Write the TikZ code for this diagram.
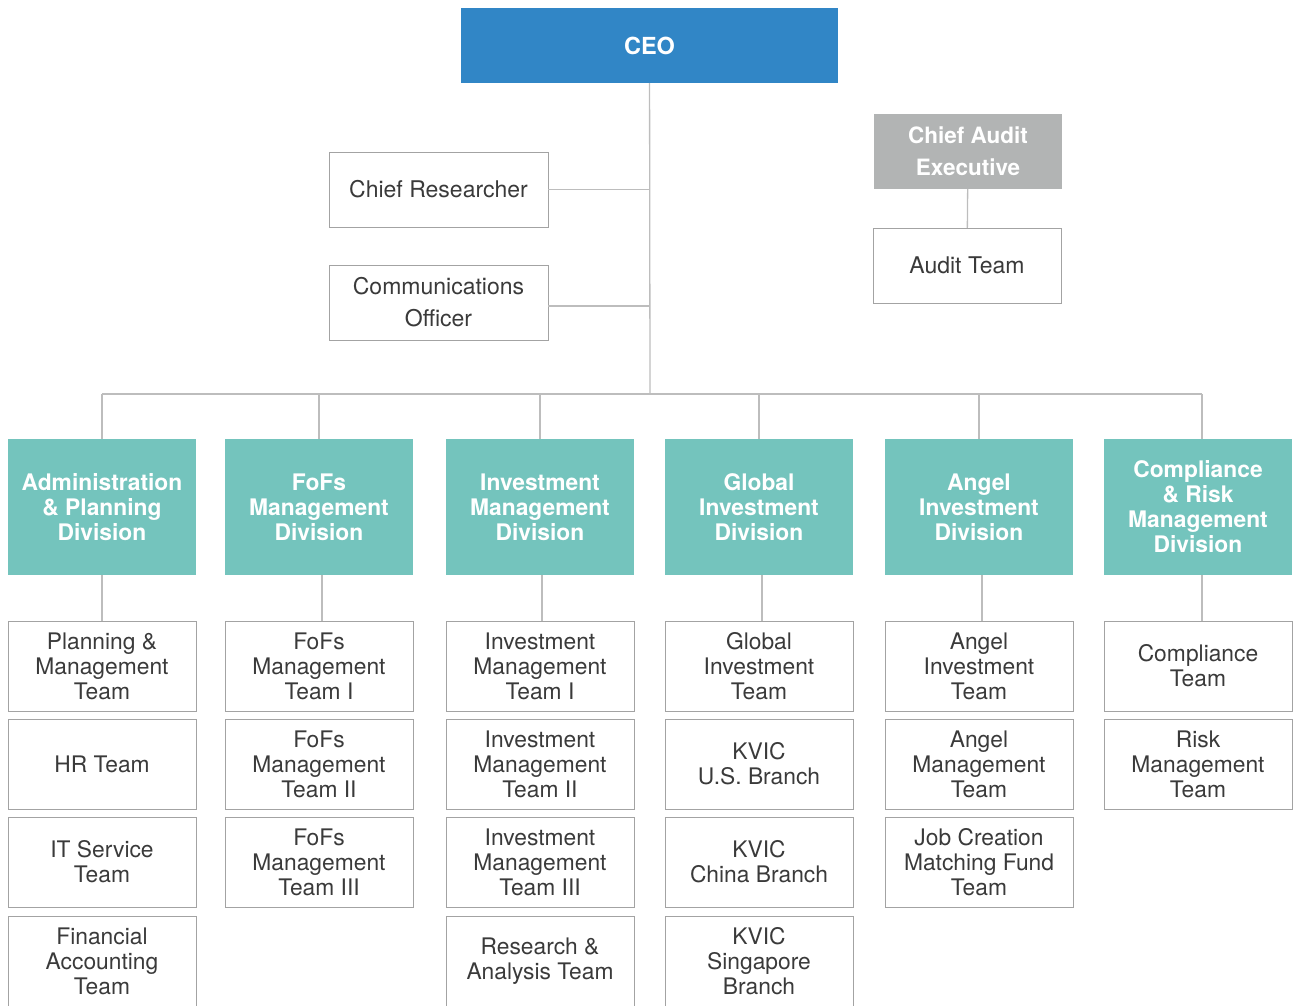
\documentclass[tikz,border=0pt]{standalone}
\usepackage{fontspec}
\setmainfont{TeX Gyre Heros}
\usetikzlibrary{positioning}

\definecolor{ceoblue}{HTML}{3186C6}
\definecolor{divteal}{HTML}{74C4BD}
\definecolor{auditgray}{HTML}{B2B4B4}
\definecolor{linegray}{HTML}{BDBDBD}
\definecolor{boxgray}{HTML}{A3A3A3}
\definecolor{textgray}{HTML}{3A3A3A}

\tikzset{
    ceobox/.style={fill=ceoblue, text=white, minimum width=377pt, minimum height=75pt, inner sep=0pt, font=\fontsize{23.5}{25}\selectfont\bfseries},
    staffbox/.style={draw=boxgray, text=textgray, minimum width=219pt, minimum height=75pt, inner sep=0pt, align=center, font=\fontsize{23}{32}\selectfont},
    execbox/.style={fill=auditgray, text=white, minimum width=188pt, minimum height=75pt, inner sep=0pt, align=center, font=\fontsize{22.5}{32}\selectfont\bfseries},
    divbox/.style={fill=divteal, text=white, minimum width=188pt, minimum height=136pt, inner sep=0pt, align=center, font=\fontsize{22.8}{25}\selectfont\bfseries},
    teambox/.style={draw=boxgray, text=textgray, minimum width=188pt, minimum height=90pt, inner sep=0pt, align=center, font=\fontsize{22.8}{25}\selectfont},
    link/.style={draw=linegray, line width=1.3pt}
}

\begin{document}
\begin{tikzpicture}[x=1pt, y=-1pt]
    \useasboundingbox (0,0) rectangle (1293,1005);

    % top level
    \node[ceobox] (ceo) at (649.5,45.5) {CEO};
    \node[staffbox] (res) at (438.5,189.5) {Chief Researcher};
    \node[staffbox] (comm) at (438.5,302.5) {Communications\\Officer};
    \node[execbox] (cae) at (968,151.5) {Chief Audit\\Executive};
    \node[staffbox, minimum width=188pt] (audit) at (967,265.5) {Audit Team};
    \coordinate (bus) at (650,394);

    % divisions
    \node[divbox] (adm) at (102,507) {Administration\\\& Planning\\Division};
    \node[divbox] (fofs) at (319,507) {FoFs\\Management\\Division};
    \node[divbox] (inv) at (540,507) {Investment\\Management\\Division};
    \node[divbox] (glob) at (759,507) {Global\\Investment\\Division};
    \node[divbox] (angel) at (979,507) {Angel\\Investment\\Division};
    \node[divbox] (comp) at (1198,507) {Compliance\\\& Risk\\Management\\Division};

    % teams
    \node[teambox] (adm1) at (102,666) {Planning \&\\Management\\Team};
    \node[teambox] (adm2) at (102,764) {HR Team};
    \node[teambox] (adm3) at (102,862) {IT Service\\Team};
    \node[teambox] (adm4) at (102,961) {Financial\\Accounting\\Team};

    \node[teambox] (fofs1) at (319,666) {FoFs\\Management\\Team I};
    \node[teambox] (fofs2) at (319,764) {FoFs\\Management\\Team II};
    \node[teambox] (fofs3) at (319,862) {FoFs\\Management\\Team III};

    \node[teambox] (inv1) at (540,666) {Investment\\Management\\Team I};
    \node[teambox] (inv2) at (540,764) {Investment\\Management\\Team II};
    \node[teambox] (inv3) at (540,862) {Investment\\Management\\Team III};
    \node[teambox] (inv4) at (540,961) {Research \&\\Analysis Team};

    \node[teambox] (glob1) at (759,666) {Global\\Investment\\Team};
    \node[teambox] (glob2) at (759,764) {KVIC\\U.S. Branch};
    \node[teambox] (glob3) at (759,862) {KVIC\\China Branch};
    \node[teambox] (glob4) at (759,961) {KVIC\\Singapore\\Branch};

    \node[teambox] (angel1) at (979,666) {Angel\\Investment\\Team};
    \node[teambox] (angel2) at (979,764) {Angel\\Management\\Team};
    \node[teambox] (angel3) at (979,862) {Job Creation\\Matching Fund\\Team};

    \node[teambox] (comp1) at (1198,666) {Compliance\\Team};
    \node[teambox] (comp2) at (1198,764) {Risk\\Management\\Team};

    % connectors
    \draw[link] (ceo) -- (bus);
    \draw[link] (res) -- (res -| ceo);
    \draw[link] (comm.east) ++(0,3.5) -- (bus |- 0,306);
    \draw[link] (cae) -- (audit);
    \draw[link] (adm.north |- bus) -- ([xshift=4pt]comp.north |- bus);
    \draw[link]
        (adm) -- (adm |- bus)
        (fofs) -- (fofs |- bus)
        (inv) -- (inv |- bus)
        (glob) -- (glob |- bus)
        (angel) -- (angel |- bus)
        ([xshift=4pt]comp.north) -- ([xshift=4pt]comp.north |- bus)
        (adm) -- (adm1)
        ([xshift=3pt]fofs.south) -- ([xshift=3pt]fofs1.north)
        ([xshift=2pt]inv.south) -- ([xshift=2pt]inv1.north)
        ([xshift=3pt]glob.south) -- ([xshift=3pt]glob1.north)
        ([xshift=3pt]angel.south) -- ([xshift=3pt]angel1.north)
        ([xshift=4pt]comp.south) -- ([xshift=4pt]comp1.north)
        ;
\end{tikzpicture}
\end{document}
